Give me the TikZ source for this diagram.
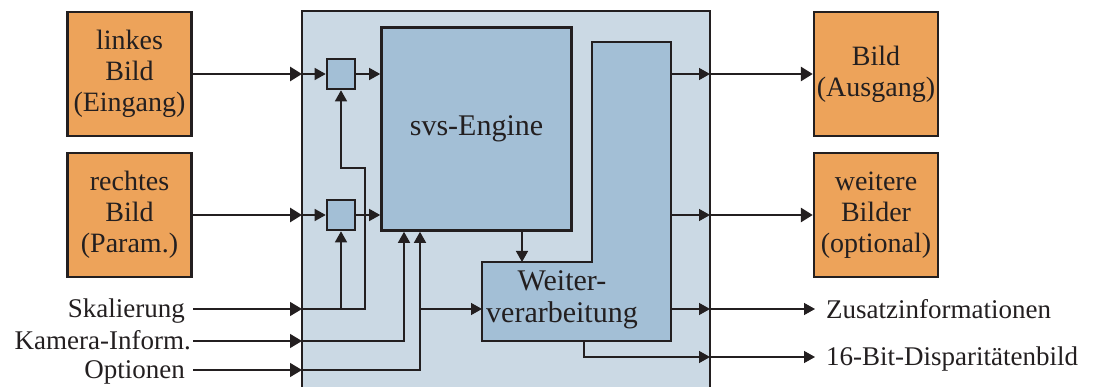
\documentclass[tikz,border=0pt]{standalone}
\usepackage{fontspec}
\setmainfont{Liberation Serif}
\usetikzlibrary{arrows.meta}
\definecolor{org}{RGB}{237,163,90}
\definecolor{outerbg}{RGB}{203,217,228}
\definecolor{innerbg}{RGB}{163,191,214}
\definecolor{ink}{RGB}{35,31,32}
\begin{document}
\begin{tikzpicture}[x=1pt,y=-1pt,
  tip/.style={-{Triangle[length=11pt,width=12pt]}},
  bigtip/.style={-{Triangle[length=12pt,width=14pt]}},
  ln/.style={draw=ink,line width=1.4pt},
  thk/.style={draw=ink,line width=2.8pt},
  obox/.style={draw=ink,line width=2.4pt,fill=org,minimum width=124pt,minimum height=124pt,
    align=center,inner sep=0pt,text=ink,font=\fontsize{28}{31}\selectfont},
  sbox/.style={draw=ink,line width=2.6pt,fill=innerbg,minimum width=28pt,minimum height=30pt,inner sep=0pt},
  lbl/.style={inner sep=0pt,text=ink,font=\fontsize{27}{30}\selectfont}
]
\useasboundingbox (0,0) rectangle (1093,387);
\clip (0,0) rectangle (1093,387);
% main box
\draw[draw=ink,line width=2.6pt,fill=outerbg] (302,11) rectangle (710,400);
\coordinate (mL) at (302,0);
\coordinate (mR) at (710,0);
\coordinate (lR) at (671,0);
% engine
\node[draw=ink,line width=2.6pt,fill=innerbg,minimum width=190pt,minimum height=203pt,inner sep=0pt,
  text=ink,font=\fontsize{30}{33}\selectfont] (eng) at (476.5,129) {svs-Engine};
% L-shape
\draw[draw=ink,line width=2.4pt,fill=innerbg] (592,42) -- (671,42) -- (671,341) -- (482,341) -- (482,262) -- (592,262) -- cycle;
\node[align=center,inner sep=0pt,text=ink,font=\fontsize{30}{32}\selectfont] (wv) at (562,300) {Weiter-\\verarbeitung};
\coordinate (wL) at (482,309);
\coordinate (wT) at (522,262);
\coordinate (wB) at (584,341);
% small boxes
\node[sbox] (s1) at (341,74) {};
\node[sbox] (s2) at (341,215) {};
% orange boxes
\node[obox] (lb) at (129.5,74) {linkes\\Bild\\(Eingang)};
\node[obox] (rb) at (129.5,215) {rechtes\\Bild\\(Param.)};
\node[obox] (ob1) at (876,74) {Bild\\(Ausgang)};
\node[obox] (ob2) at (876,215) {weitere\\Bilder\\(optional)};
% labels
\node[lbl,anchor=base east] (skal) at (185,318) {Skalierung};
\node[lbl,anchor=base east] (kam) at (191,350) {Kamera-Inform.};
\node[lbl,anchor=base east] (opt) at (185,379) {Optionen};
\node[lbl,anchor=base west] (zus) at (826,319) {Zusatzinformationen};
\node[lbl,anchor=base west] (disp) at (826,366) {16-Bit-Disparitätenbild};
\coordinate (skalS) at (193,309);
\coordinate (kamS) at (193,341);
\coordinate (optS) at (193,370);
\coordinate (zusE) at (815,309);
\coordinate (dispE) at (815,357);
% inputs
\draw[thk,bigtip] (lb.east) -- (lb.east -| mL);
\draw[thk,bigtip] (rb.east) -- (rb.east -| mL);
\draw[ln,tip] (lb.east -| mL) -- (s1.west);
\draw[ln,tip] (rb.east -| mL) -- (s2.west);
\draw[ln,tip] (s1.east) -- (s1.east -| eng.west);
\draw[ln,tip] (s2.east) -- (s2.east -| eng.west);
\draw[ln,bigtip] (skalS) -- (skalS -| mL);
\draw[ln,bigtip] (kamS) -- (kamS -| mL);
\draw[ln,bigtip] (optS) -- (optS -| mL);
\draw[ln,tip] (skalS -| mL) -| (365,168) -| (s1.south);
\draw[ln,tip] (341,309) -- (s2.south);
\draw[ln,tip] (kamS -| mL) -| ([xshift=-72.5pt]eng.south);
\draw[ln,tip] (optS -| mL) -| ([xshift=-56.5pt]eng.south);
\draw[ln,tip] (420,309) -- (wL);
\draw[ln,tip] ([xshift=45.5pt]eng.south) -- (wT);
% outputs
\draw[ln,tip] (ob1.west -| lR) -- (ob1.west -| mR);
\draw[ln,tip] (ob2.west -| lR) -- (ob2.west -| mR);
\draw[thk,bigtip] (ob1.west -| mR) -- (ob1.west);
\draw[thk,bigtip] (ob2.west -| mR) -- (ob2.west);
\draw[ln,tip] (zusE -| lR) -- (zusE -| mR);
\draw[ln,tip] (zusE -| mR) -- (zusE);
\draw[ln,tip] (wB) |- (dispE -| mR);
\draw[ln,tip] (dispE -| mR) -- (dispE);
\end{tikzpicture}
\end{document}
